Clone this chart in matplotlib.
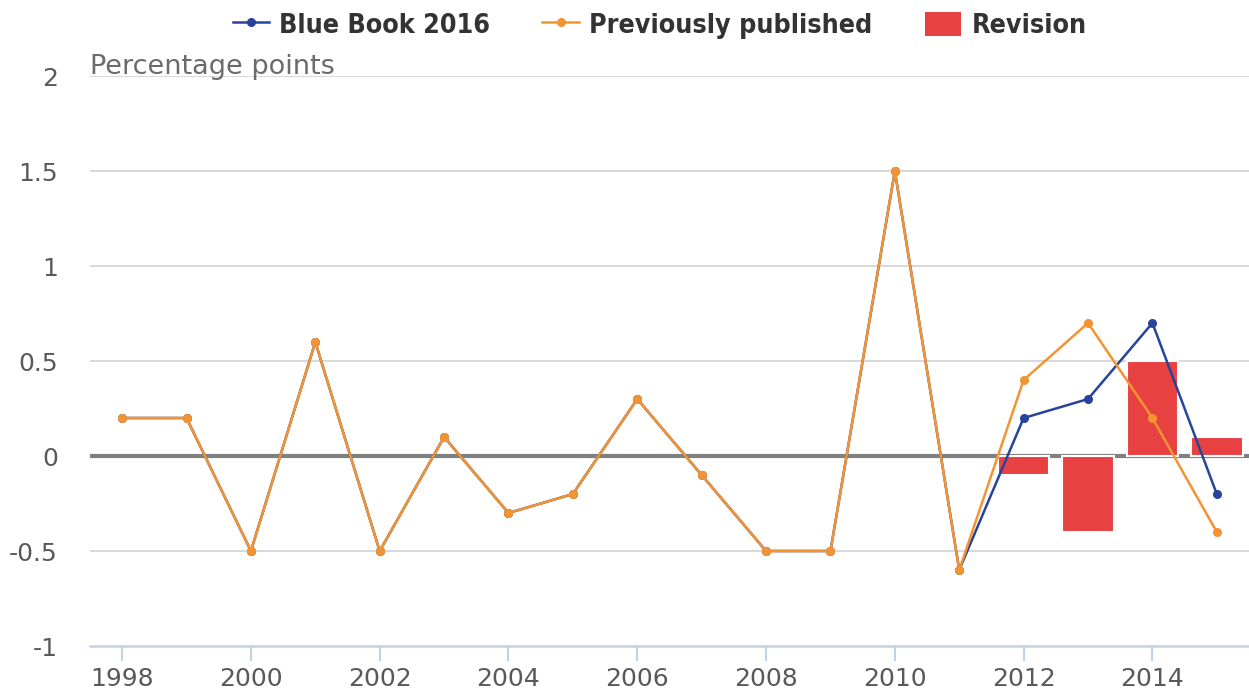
import matplotlib.pyplot as plt
from matplotlib.patches import Patch
from matplotlib.lines import Line2D

years = list(range(1998, 2016))
blue_book = [0.2, 0.2, -0.5, 0.6, -0.5, 0.1, -0.3, -0.2, 0.3, -0.1,
             -0.5, -0.5, 1.5, -0.6, 0.2, 0.3, 0.7, -0.2]
previous = [0.2, 0.2, -0.5, 0.6, -0.5, 0.1, -0.3, -0.2, 0.3, -0.1,
            -0.5, -0.5, 1.5, -0.6, 0.4, 0.7, 0.2, -0.4]
rev_years = [2012, 2013, 2014, 2015]
revision = [-0.1, -0.4, 0.5, 0.1]

y_ticks = [-1, -0.5, 0, 0.5, 1, 1.5, 2]
y_labels = ['-1', '-0.5', '0', '0.5', '1', '1.5', '2']
x_ticks = list(range(1998, 2016, 2))

BLUE = '#27449a'
ORANGE = '#f39433'
RED = '#e84142'

fig = plt.figure(figsize=(12.49, 6.93), dpi=100)
ax = fig.add_axes([0.072, 0.0678, 0.928, 0.8225])

for y in y_ticks:
    if y not in (0, -1):
        ax.axhline(y, color='#d8d8d8', lw=1.4, zorder=0)
ax.axhline(0, color='#808080', lw=3, zorder=1)

ax.bar(rev_years, revision, width=0.8, color=RED, edgecolor='white',
       linewidth=1.5, zorder=2)
ax.plot(years, blue_book, color=BLUE, lw=1.8, marker='o', ms=5.5, zorder=3)
ax.plot(years, previous, color=ORANGE, lw=1.8, marker='o', ms=5.5, zorder=4)

ax.set_xlim(1997.5, 2015.5)
ax.set_ylim(-1, 2)
ax.set_yticks(y_ticks)
ax.set_yticklabels(y_labels)
ax.set_xticks(x_ticks)

for side in ('top', 'right', 'left'):
    ax.spines[side].set_visible(False)
ax.spines['bottom'].set_color('#c3d2e3')
ax.spines['bottom'].set_linewidth(1.8)
ax.tick_params(axis='x', length=11, width=1.5, color='#c3d2e3',
               labelsize=18, labelcolor='#595959', pad=4)
ax.tick_params(axis='y', length=0, labelsize=18, labelcolor='#595959',
               pad=23)

ax.text(0.0, 0.993, 'Percentage points', transform=ax.transAxes,
        fontsize=19.5, color='#6b6b6b', ha='left', va='bottom')

handles = [
    Line2D([], [], color=BLUE, lw=1.8, marker='o', ms=5.5),
    Line2D([], [], color=ORANGE, lw=1.8, marker='o', ms=5.5),
    Patch(facecolor=RED, edgecolor='none'),
]
labels = ['Blue Book 2016', 'Previously published', 'Revision']
fig.legend(handles, labels, loc='upper center', bbox_to_anchor=(0.528, 1.018),
           ncol=3, frameon=False, handlelength=1.36, handleheight=1.0,
           handletextpad=0.38, columnspacing=1.95,
           prop={'family': 'DejaVu Sans', 'weight': 'bold',
                 'stretch': 'condensed', 'size': 19.3})
for t in fig.legends[0].get_texts():
    t.set_color('#333333')

fig.savefig('out.png', dpi=100)
